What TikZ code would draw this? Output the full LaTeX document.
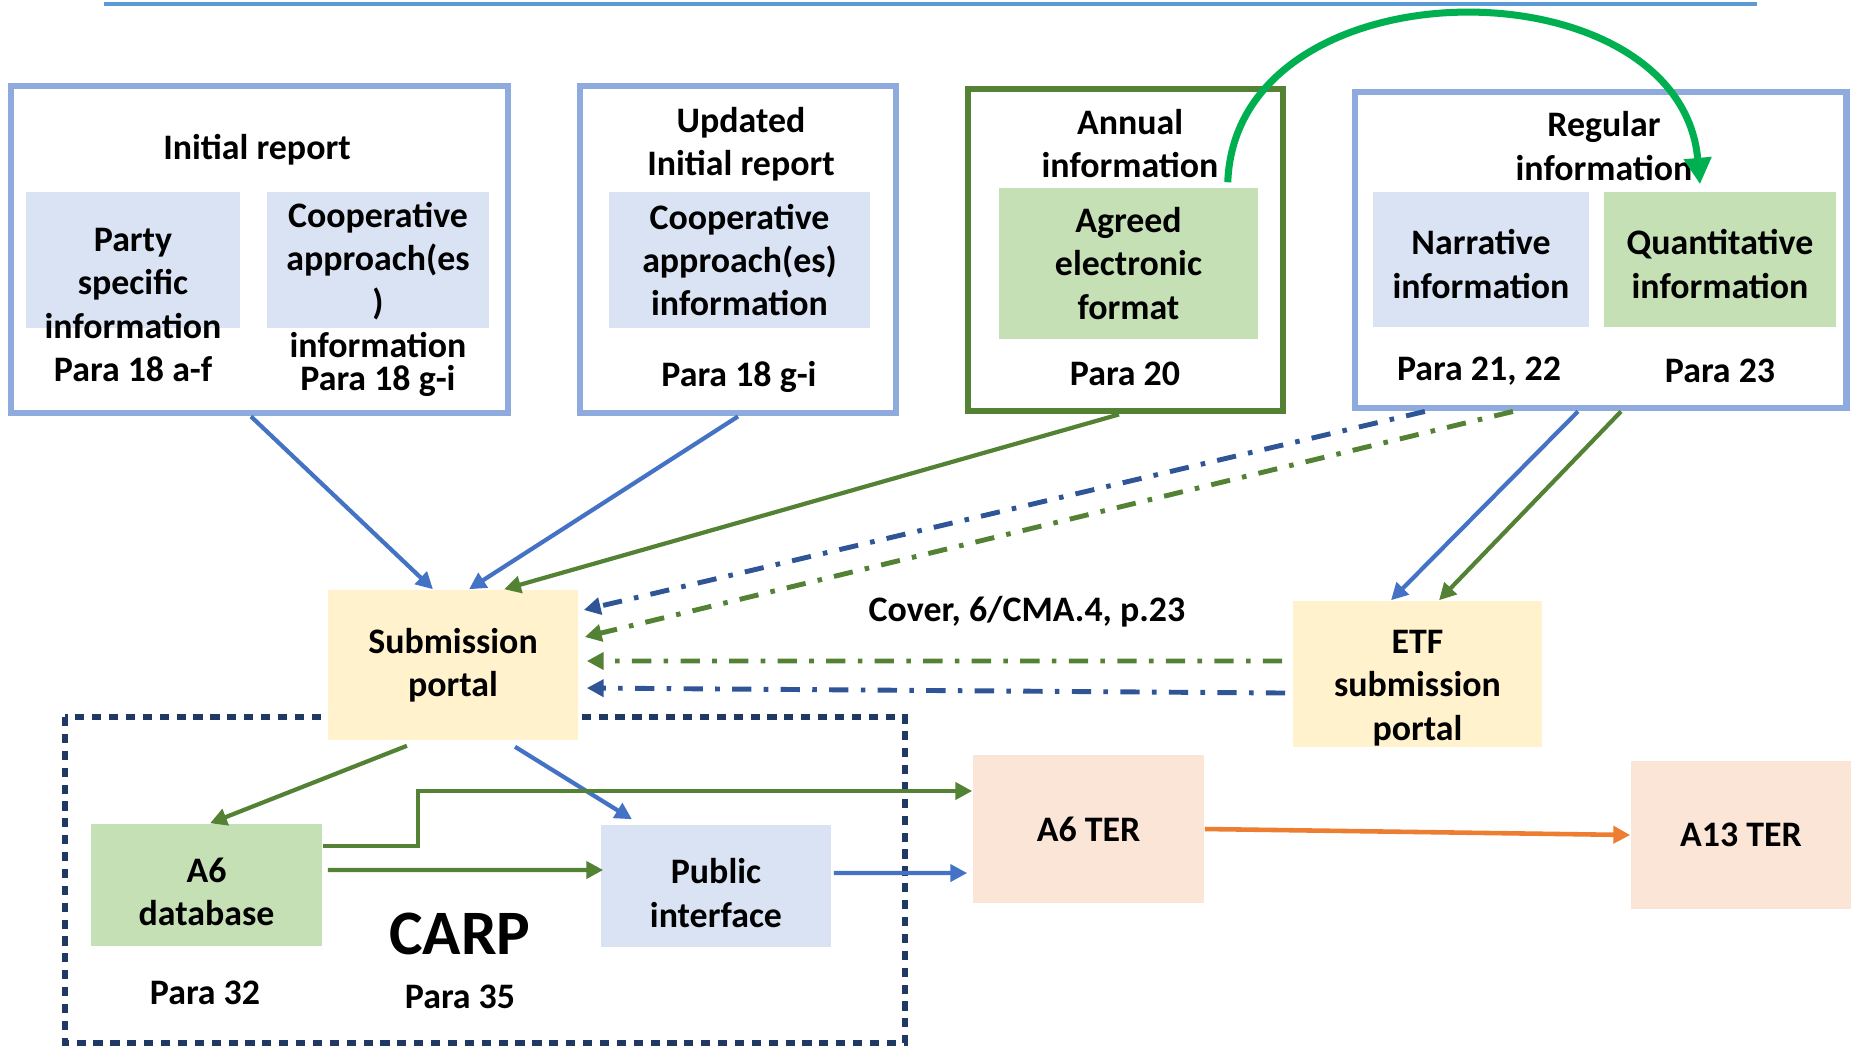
\documentclass[tikz,border=0pt]{standalone}
\usepackage{fontspec}
\setmainfont{Carlito}
\usetikzlibrary{arrows.meta}

\definecolor{frameblue}{HTML}{8FAADC}
\definecolor{paleblue}{HTML}{DAE3F3}
\definecolor{framegreen}{HTML}{548235}
\definecolor{palegreen}{HTML}{C5E0B4}
\definecolor{paleyellow}{HTML}{FFF2CC}
\definecolor{palepeach}{HTML}{FBE5D6}
\definecolor{flowblue}{HTML}{4472C4}
\definecolor{darkblue}{HTML}{2F5597}
\definecolor{floworange}{HTML}{ED7D31}
\definecolor{brightgreen}{HTML}{00B050}
\definecolor{navy}{HTML}{203864}
\definecolor{rulerblue}{HTML}{5B9BD5}

\begin{document}
\begin{tikzpicture}[x=0.01cm, y=-0.01cm,
    every node/.style={font=\bfseries\fontsize{10.2}{12.3}\selectfont, align=center, inner sep=0pt},
    frame/.style={draw=frameblue, line width=1.9pt},
    bluebox/.style={fill=paleblue},
    greenbox/.style={fill=palegreen},
    portalbox/.style={fill=paleyellow},
    terbox/.style={fill=palepeach},
    tip/.style={-{Triangle[length=4.8pt, width=4.8pt]}},
    blueflow/.style={tip, draw=flowblue, line width=1.2pt},
    greenflow/.style={tip, draw=framegreen, line width=1.2pt},
    dashdot/.style={tip, line width=1.4pt, dash pattern=on 5.5pt off 3.5pt on 1.3pt off 3.5pt},
  ]
  \useasboundingbox (0,0) rectangle (1851,1047);

  \draw[rulerblue, line width=1.1pt] (104,4) -- (1757,4);

  % CARP area
  \draw[navy, line width=1.8pt, dash pattern=on 2.6pt off 2.2pt] (65,717) rectangle (905,1043);

  % reports
  \node[frame, minimum width=4.97cm, minimum height=3.27cm] (initial) at (259.5,249.5) {};
  \node (initialtitle) at (257,150) {Initial report};
  \node[bluebox, minimum width=2.14cm, minimum height=1.36cm] (party) at (133,260) {};
  \node[bluebox, minimum width=2.22cm, minimum height=1.36cm] (coopini) at (378,260) {};
  \node (partytext) at (133,305) {Party\\specific\\information\\Para 18 a-f};
  \node (cooptext) at (378,280) {Cooperative\\approach(es\\)\\information};
  \node (paraini) at (378,381) {Para 18 g-i};

  \node[frame, minimum width=3.16cm, minimum height=3.27cm] (updated) at (738,249.5) {};
  \node (updatedtitle) at (741,144.5) {Updated\\Initial report};
  \node[bluebox, minimum width=2.61cm, minimum height=1.36cm] (coopupd) at (739.5,260)
    {Cooperative\\approach(es)\\information};
  \node (paraupd) at (739,377) {Para 18 g-i};

  \node[frame, draw=framegreen, minimum width=3.15cm, minimum height=3.22cm] (annual) at (1125.5,250) {};
  \node (annualtitle) at (1130,143.5) {Annual\\information};
  \node[greenbox, minimum width=2.59cm, minimum height=1.51cm] (agreed) at (1128.5,263.5)
    {Agreed\\electronic\\format};
  \node (paraannual) at (1125,374) {Para 20};

  \node[frame, minimum width=4.91cm, minimum height=3.16cm] (regular) at (1600.5,250) {};
  \node (regulartitle) at (1604,146) {Regular\\information};
  \node[bluebox, minimum width=2.16cm, minimum height=1.35cm] (narrative) at (1481,259.5) {};
  \node[greenbox, minimum width=2.32cm, minimum height=1.35cm] (quant) at (1720,259.5) {};
  \node (narrtext) at (1481,264) {Narrative\\information};
  \node (quanttext) at (1720,264) {Quantitative\\information};
  \node (paranarr) at (1479,371) {Para 21, 22};
  \node (paraquant) at (1720,371) {Para 23};

  % portals and outputs
  \node[portalbox, minimum width=2.5cm, minimum height=1.5cm] (portal) at (453,665) {Submission\\portal};
  \node[portalbox, minimum width=2.49cm, minimum height=1.46cm] (etf) at (1417.5,674) {};
  \node (etftext) at (1417.5,688) {ETF\\submission\\portal};
  \node (cover) at (1027,612) {Cover, 6/CMA.4, p.23};
  \node[greenbox, minimum width=2.31cm, minimum height=1.22cm] (a6db) at (206.5,885) {};
  \node (a6dbtext) at (206.5,892) {A6\\database};
  \node[bluebox, minimum width=2.3cm, minimum height=1.22cm] (pubint) at (716,886) {};
  \node (pubinttext) at (716,893) {Public\\interface};
  \node (para32) at (205,993) {Para 32};
  \node[font=\bfseries\fontsize{18}{22}\selectfont] (carp) at (460,934) {CARP};
  \node (para35) at (460,997) {Para 35};
  \node[terbox, minimum width=2.31cm, minimum height=1.48cm] (a6ter) at (1088.5,829) {A6 TER};
  \node[terbox, minimum width=2.2cm, minimum height=1.48cm] (a13ter) at (1741,835) {A13 TER};

  % into the submission portal
  \draw[blueflow] ([xshift=-0.085cm]initial.south) -- ([xshift=-0.2cm]portal.north);
  \draw[blueflow] (updated.south) -- ([xshift=0.16cm]portal.north);
  \draw[greenflow] ([xshift=-0.065cm]annual.south) -- ([xshift=0.51cm]portal.north);
  \draw[dashdot, darkblue]
    ([xshift=-1.755cm]regular.south) -- ([xshift=0.05cm, yshift=0.55cm]portal.east);
  \draw[dashdot, framegreen]
    ([xshift=-0.875cm]regular.south) -- ([xshift=0.06cm, yshift=0.28cm]portal.east);
  \draw[dashdot, framegreen]
    ([xshift=-0.1cm, yshift=0.13cm]etf.west) -- ([xshift=0.08cm, yshift=0.04cm]portal.east);
  \draw[dashdot, darkblue]
    ([xshift=-0.07cm, yshift=-0.19cm]etf.west) -- ([xshift=0.08cm, yshift=-0.23cm]portal.east);

  % into the ETF portal
  \draw[blueflow] ([xshift=-0.225cm]regular.south) -- ([xshift=-0.265cm]etf.north);
  \draw[greenflow] ([xshift=0.205cm]regular.south) -- ([xshift=0.215cm]etf.north);

  % out of the submission portal
  \draw[greenflow] ([xshift=-0.46cm, yshift=-0.05cm]portal.south) -- ([xshift=0.035cm]a6db.north);
  \draw[blueflow] ([xshift=0.62cm, yshift=-0.06cm]portal.south) -- ([xshift=-0.84cm, yshift=0.05cm]pubint.north);
  \draw[greenflow] ([yshift=0.39cm]a6db.east) -- ++(95,0) |- ([yshift=0.38cm]a6ter.west);
  \draw[greenflow] ([xshift=0.05cm, yshift=0.15cm]a6db.east) -- ([xshift=0.03cm, yshift=0.16cm]pubint.west);
  \draw[blueflow] ([xshift=0.02cm, yshift=0.13cm]pubint.east) -- ([xshift=-0.05cm, yshift=-0.44cm]a6ter.west);
  \draw[tip, floworange, line width=1.3pt] (a6ter.east) -- (a13ter.west);

  % annual format feeds the quantitative part
  \draw[-{Triangle[length=7.5pt, width=7.5pt]}, brightgreen, line width=2pt]
    ([xshift=-0.31cm, yshift=0.05cm]agreed.north east)
    .. controls +(8,-223) and +(-20,-225) .. ([xshift=-0.2cm, yshift=0.07cm]quant.north);
\end{tikzpicture}
\end{document}
